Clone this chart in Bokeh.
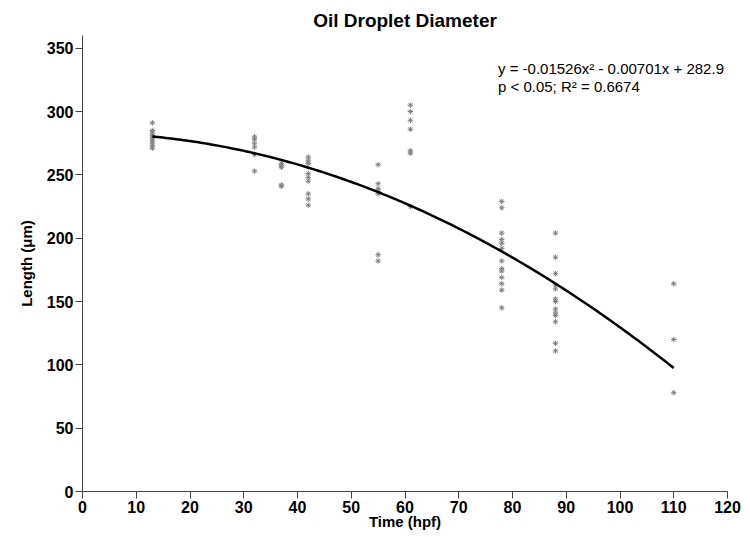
import numpy as np
from bokeh.plotting import figure
from bokeh.models import Range1d, FixedTicker
from bokeh.embed import file_html
from bokeh.resources import INLINE
from bokeh.core.properties import value

# Observed droplet lengths (um) at each time (hpf)
t13 = [291, 285, 283, 281, 279, 277, 275, 273, 271]
t32 = [280, 278, 275, 272, 266, 253]
t37 = [259, 257, 256, 242, 241]
t42 = [264, 261, 259, 251, 248, 245, 235, 231, 226]
t55 = [258, 243, 239, 237, 235, 187, 182]
t61 = [305, 300, 293, 286, 269, 267, 225]
t78 = [229, 224, 204, 199, 196, 192, 182, 176, 174, 169, 164, 159, 145]
t88 = [204, 185, 172, 163, 160, 152, 150, 144, 141, 139, 134, 117, 111]
t110 = [164, 120, 78]
times = [13, 32, 37, 42, 55, 61, 78, 88, 110]
groups = [t13, t32, t37, t42, t55, t61, t78, t88, t110]

# Quadratic fit coefficients shown on chart
coef_a = -0.01526
coef_b = -0.00701
coef_c = 282.9
equation_lines = ["y = -0.01526x\u00b2 - 0.00701x + 282.9", "p < 0.05; R\u00b2 = 0.6674"]

x_ticks = list(range(0, 121, 10))
y_ticks = list(range(0, 351, 50))

xs, ys = [], []
for t, g in zip(times, groups):
    xs += [t] * len(g)
    ys += g

fx = np.linspace(min(times), max(times), 200)
fy = coef_a * fx ** 2 + coef_b * fx + coef_c

p = figure(width=750, height=537, output_backend="svg", toolbar_location=None,
           x_range=Range1d(0, 120), y_range=Range1d(0, 360),
           min_border_left=82, min_border_right=23, min_border_top=35, min_border_bottom=46,
           title="Oil Droplet Diameter")
p.title.align = "center"
p.title.text_font = "Liberation Sans"
p.title.text_font_size = "19px"
p.title.text_font_style = "bold"
p.title.text_color = "black"
p.title.offset = 0
p.outline_line_color = None
p.grid.visible = False
p.background_fill_color = "white"
p.border_fill_color = "white"

p.scatter(xs, ys, marker="asterisk", size=5.5, line_color="#808080", line_width=1)
p.line(fx, fy, line_color="black", line_width=2.5)

p.text(x=[77.3, 77.3], y=[334, 320], text=equation_lines, text_font=value("Liberation Sans"),
       text_font_size="15px", text_color="black", text_baseline="middle")

for ax in (p.xaxis[0], p.yaxis[0]):
    ax.major_label_text_font = "Liberation Sans"
    ax.major_label_text_font_size = "16px"
    ax.major_label_text_font_style = "bold"
    ax.major_label_text_color = "black"
    ax.axis_label_text_font = "Liberation Sans"
    ax.axis_label_text_font_size = "15px"
    ax.axis_label_text_font_style = "bold"
    ax.axis_label_text_color = "black"
    ax.axis_line_color = "#444444"
    ax.major_tick_line_color = "#444444"
    ax.major_tick_out = 7
    ax.major_tick_in = 0
    ax.minor_tick_line_color = None

p.xaxis.ticker = FixedTicker(ticks=x_ticks)
p.yaxis.ticker = FixedTicker(ticks=y_ticks)
p.xaxis.axis_label = "Time (hpf)"
p.yaxis.axis_label = "Length (\u03bcm)"
p.xaxis.axis_label_standoff = -3
p.yaxis.axis_label_standoff = 9
p.xaxis.major_label_standoff = 2
p.yaxis.major_label_standoff = 2

open("out.html", "w").write(file_html(p, INLINE))
